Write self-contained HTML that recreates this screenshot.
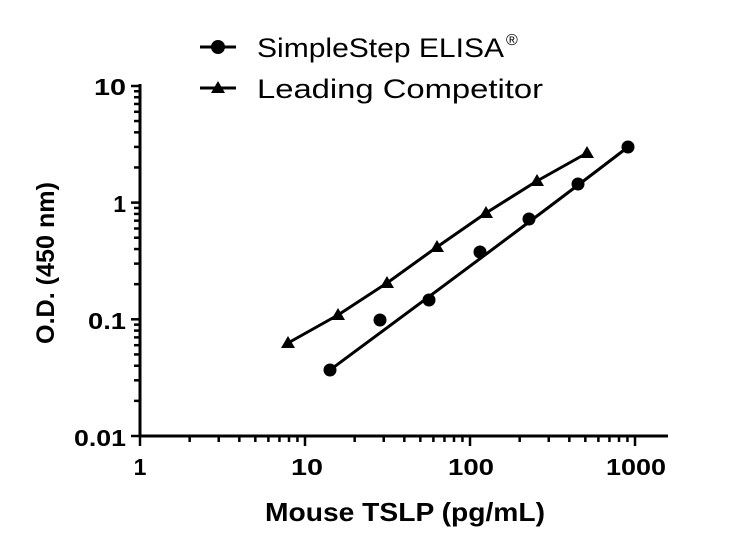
<!DOCTYPE html>
<html><head><meta charset="utf-8"><style>
html,body{margin:0;padding:0;background:#fff;width:750px;height:550px;overflow:hidden}
svg{display:block}
text{font-family:"Liberation Sans",sans-serif;fill:#000}
</style></head><body>
<svg id="s" width="750" height="550" xmlns="http://www.w3.org/2000/svg">
<g stroke="#000" stroke-width="3" fill="none">
<line x1="140" y1="84" x2="140" y2="437"/>
<line x1="138.5" y1="436" x2="668" y2="436"/>
</g>
<g id="ticks" stroke="#000" stroke-width="2.5"></g>
<g font-weight="bold" font-size="23" text-anchor="end">
<text x="126" y="95" textLength="32" lengthAdjust="spacingAndGlyphs">10</text>
<text x="126" y="212">1</text>
<text x="126" y="329" textLength="38" lengthAdjust="spacingAndGlyphs">0.1</text>
<text x="126" y="446" textLength="52" lengthAdjust="spacingAndGlyphs">0.01</text>
</g>
<g font-weight="bold" font-size="23" text-anchor="middle">
<text x="140" y="475">1</text>
<text x="307" y="475" textLength="32" lengthAdjust="spacingAndGlyphs">10</text>
<text x="471" y="475" textLength="46" lengthAdjust="spacingAndGlyphs">100</text>
<text x="636" y="475" textLength="60" lengthAdjust="spacingAndGlyphs">1000</text>
</g>
<text x="405" y="521" font-weight="bold" font-size="26" text-anchor="middle" textLength="280" lengthAdjust="spacingAndGlyphs">Mouse TSLP (pg/mL)</text>
<text transform="translate(54,263) rotate(-90)" font-weight="bold" font-size="25" text-anchor="middle" textLength="162" lengthAdjust="spacingAndGlyphs">O.D. (450 nm)</text>
<g stroke="#000" stroke-width="3" fill="none" stroke-linejoin="round">
<path d="M330,370 C400,318 520,230 628,147"/>
<polyline points="288,343 338,315 387,283 437,247 486,213 537,181 587,153"/>
<line x1="200" y1="47" x2="236" y2="47"/>
<line x1="200" y1="88" x2="236" y2="88"/>
</g>
<g fill="#000">
<circle cx="330" cy="370" r="6.5"/><circle cx="380" cy="320" r="6.5"/><circle cx="429" cy="300" r="6.5"/><circle cx="480" cy="252" r="6.5"/><circle cx="529" cy="219" r="6.5"/><circle cx="578" cy="184" r="6.5"/><circle cx="628" cy="147" r="6.5"/>
<circle cx="218" cy="47" r="7"/>
<path d="M0,-7 L7,5 L-7,5Z" transform="translate(218,88)"/>
</g>
<g id="tris" fill="#000"></g>
<g font-size="27">
<text x="257" y="57" textLength="247" lengthAdjust="spacingAndGlyphs">SimpleStep ELISA</text>
<text x="506" y="45" font-size="16">®</text>
<text x="257" y="98" textLength="286" lengthAdjust="spacingAndGlyphs">Leading Competitor</text>
</g>
</svg>
<script>
var NS="http://www.w3.org/2000/svg",t=document.getElementById("ticks"),tr=document.getElementById("tris");
function L(a,b,c,d){var l=document.createElementNS(NS,"line");l.setAttribute("x1",a);l.setAttribute("y1",b);l.setAttribute("x2",c);l.setAttribute("y2",d);t.appendChild(l);}
for(var dc=0;dc<3;dc++){var by=436-dc*116.7;L(131,by,140,by);for(var k=2;k<10;k++){var y=by-Math.log10(k)*116.7;L(134,y,140,y);}}
L(131,86,140,86);
for(var dc=0;dc<3;dc++){var bx=140+dc*165;L(bx,436,bx,446);for(var k=2;k<10;k++){var x=bx+Math.log10(k)*165;L(x,436,x,442);}}
L(635,436,635,446);
[[288,343],[338,315],[387,283],[437,247],[486,213],[537,181],[587,153]].forEach(function(p){var e=document.createElementNS(NS,"path");e.setAttribute("d","M0,-7 L7,5 L-7,5Z");e.setAttribute("transform","translate("+p[0]+","+p[1]+")");tr.appendChild(e);});
</script>
</body></html>
